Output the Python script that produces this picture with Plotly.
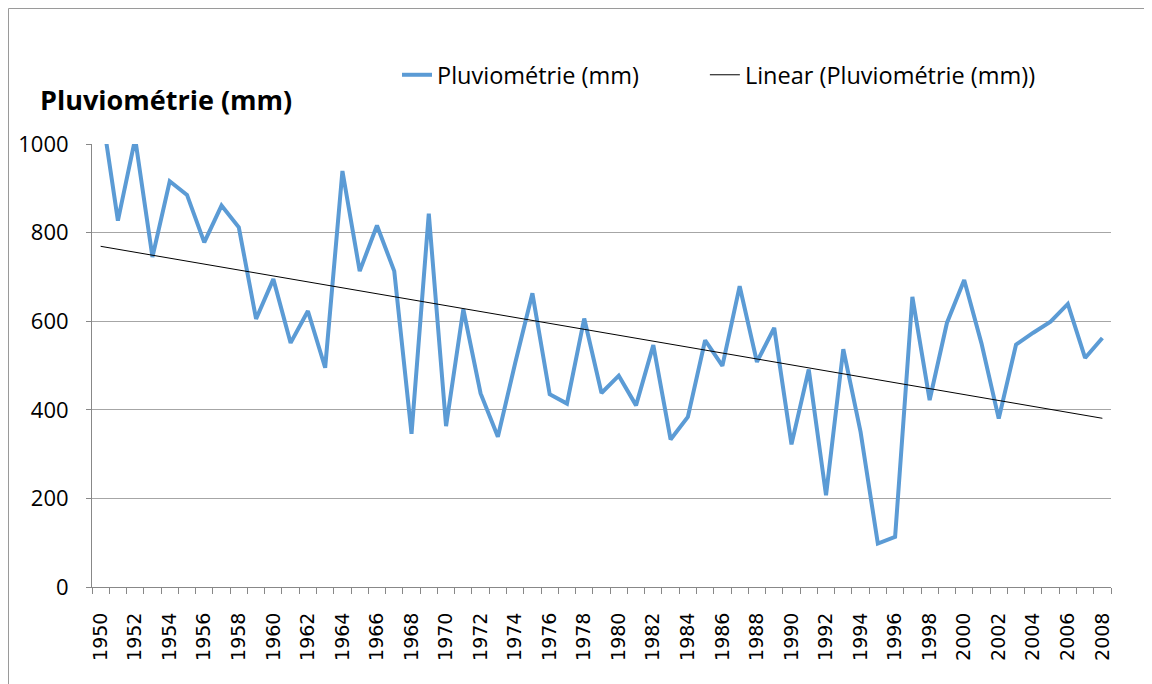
import numpy as np
import plotly.graph_objects as go

# annual rainfall
years = list(range(1950, 2009))
pluvio_mm = [1090, 827, 1012, 745, 916, 885, 778, 861, 812, 605,
             695, 551, 623, 495, 939, 713, 816, 713, 346, 843,
             363, 627, 437, 339, 505, 663, 435, 414, 606, 438,
             477, 410, 546, 333, 384, 557, 499, 679, 508, 585,
             322, 491, 207, 537, 350, 98, 113, 655, 422, 596,
             693, 550, 380, 547, 574, 599, 639, 517, 562]
x_labels = [str(y) for y in years[::2]]
y_ticks = [0, 200, 400, 600, 800, 1000]

# linear trend like Excel's trendline
slope, intercept = np.polyfit(years, pluvio_mm, 1)
trend = [slope * y + intercept for y in years]

# page body has an 8px margin, so the figure sits at (8, 8)
OFF = 8
W, H = 1152 - OFF, 684 - OFF
L, R, T, B = 92 - OFF, 1111 - OFF, 144 - OFF, 587 - OFF   # plot area in figure px

px = lambda v: (v - OFF - L) / (R - L)
py = lambda v: (B - (v - OFF)) / (B - T)

fig = go.Figure()
fig.add_trace(go.Scatter(x=years, y=pluvio_mm, mode="lines",
                         name="Pluviométrie (mm)" + "\u00a0" * 10,
                         line=dict(color="#5B9BD5", width=4)))
fig.add_trace(go.Scatter(x=years, y=trend, mode="lines",
                         name="Linear (Pluviométrie (mm))",
                         line=dict(color="black", width=1)))

# chart-area border (top and left edges visible)
fig.add_shape(type="line", xref="paper", yref="paper",
              x0=px(8.5), x1=px(8.5), y0=py(684), y1=py(8.5),
              line=dict(color="#9a9a9a", width=1))
fig.add_shape(type="line", xref="paper", yref="paper",
              x0=px(8.5), x1=px(1152), y0=py(8.5), y1=py(8.5),
              line=dict(color="#9a9a9a", width=1))

fig.update_layout(
    width=W, height=H,
    margin=dict(l=L, r=W - R, t=T, b=H - B),
    paper_bgcolor="white", plot_bgcolor="white",
    title=dict(text="<b>Pluviométrie (mm)</b>", xref="container", yref="container",
               x=(40 - OFF) / W, y=1 - (101 - OFF) / H, xanchor="left", yanchor="middle",
               font=dict(family="Open Sans", size=27, color="black")),
    legend=dict(orientation="h", x=px(397), y=py(75), xanchor="left", yanchor="middle",
                font=dict(family="Open Sans", size=23.5, color="black"),
                bgcolor="rgba(0,0,0,0)"),
    showlegend=True,
)
fig.update_xaxes(range=[1949.5, 2008.5], tickmode="array",
                 tickvals=years[::2], ticktext=x_labels, tickangle=-90,
                 ticks="", showgrid=False, zeroline=False, automargin=False,
                 showline=True, linecolor="#888888", linewidth=1,
                 tickfont=dict(family="DejaVu Sans", size=19, color="black"),
                 ticklabelstandoff=17,
                 minor=dict(tick0=1949.5, dtick=1, ticks="outside", ticklen=6,
                            tickcolor="#888888", showgrid=False))
fig.update_yaxes(range=[0, 1000], tickmode="array", tickvals=y_ticks,
                 ticks="outside", ticklen=5, tickcolor="#888888",
                 showgrid=True, gridcolor="#a6a6a6", gridwidth=1,
                 zeroline=False, showline=True, linecolor="#888888", linewidth=1,
                 automargin=False,
                 tickfont=dict(family="Open Sans", size=22, color="black"),
                 ticklabelstandoff=13)

fig.write_html("out.html")
